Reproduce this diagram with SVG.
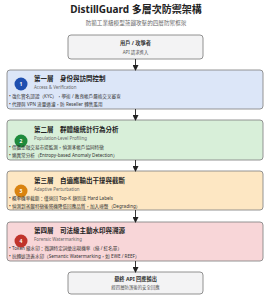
<svg xmlns="http://www.w3.org/2000/svg" width="272" height="300" viewBox="0 0 272 300">
<defs>
<marker id="ah" markerWidth="6" markerHeight="6" refX="5" refY="3" orient="auto" markerUnits="userSpaceOnUse">
<path d="M0,0 L6,3 L0,6 Z" fill="#222"/>
</marker>
<style>
text{font-family:"Noto Sans","Noto Sans CJK TC",sans-serif;}
.title{font-size:10px;font-weight:bold;fill:#222;text-anchor:middle;}
.sub{font-size:5.6px;fill:#666;text-anchor:middle;}
.term{fill:#f3f3f4;stroke:#777;stroke-width:0.8;}
.tt{font-size:5.2px;font-weight:bold;fill:#333;text-anchor:middle;}
.ts{font-size:4.4px;fill:#555;text-anchor:middle;}
.lay{stroke:#888;stroke-width:0.9;}
.lt{font-size:6.5px;font-weight:bold;fill:#222;}
.le{font-size:4.4px;fill:#666;}
.lb{font-size:4.6px;fill:#333;}
.num{font-size:5px;font-weight:bold;fill:#fff;text-anchor:middle;}
.con{stroke:#222;stroke-width:0.9;fill:none;marker-end:url(#ah);}
</style>
</defs>
<rect width="272" height="300" fill="#ffffff"/>
<text class="title" x="136" y="13">DistillGuard 多層次防禦架構</text>
<text class="sub" x="136" y="25">防範工業級模型蒸餾攻擊的四層防禦框架</text>

<g id="user">
<rect class="term" x="68" y="35" width="135" height="24" rx="3"/>
<text class="tt" x="135.5" y="45">用戶 / 攻擊者</text>
<text class="ts" x="135.5" y="53.5">API 請求進入</text>
</g>

<g id="layer1">
<rect class="lay" x="7" y="70" width="256" height="39" rx="3" fill="#dce6f8"/>
<circle cx="21" cy="84" r="6.5" fill="#1f4fb0"/>
<text class="num" x="21" y="85.8">1</text>
<text class="lt" x="34" y="81">第一層　身份與訪問控制</text>
<text class="le" x="34" y="89">Access &amp; Verification</text>
<text class="lb" x="9" y="98">• 強化實名認證（KYC），學術 / 教育帳戶嚴格交叉審查</text>
<text class="lb" x="9" y="106">• 代理與 VPN 流量過濾，防 Reseller 轉售濫用</text>
</g>

<g id="layer2">
<rect class="lay" x="7" y="120" width="256" height="40" rx="3" fill="#d8efd9"/>
<circle cx="21" cy="141" r="6.5" fill="#1f8a3c"/>
<text class="num" x="21" y="142.8">2</text>
<text class="lt" x="34" y="132">第二層　群體級統計行為分析</text>
<text class="le" x="34" y="140">Population-Level Profiling</text>
<text class="lb" x="9" y="149">• 借鑑金融交易市場監測，偵測多帳戶協同特徵</text>
<text class="lb" x="9" y="157">• 熵異常分析（Entropy-based Anomaly Detection）</text>
</g>

<g id="layer3">
<rect class="lay" x="7" y="171" width="256" height="39" rx="3" fill="#fde7c3"/>
<circle cx="21" cy="191" r="6.5" fill="#d98310"/>
<text class="num" x="21" y="192.8">3</text>
<text class="lt" x="34" y="183">第三層　自適應輸出干擾與截斷</text>
<text class="le" x="34" y="191">Adaptive Perturbation</text>
<text class="lb" x="9" y="200">• 概率機率截斷：僅返回 Top-K 類別或 Hard Labels</text>
<text class="lb" x="9" y="208">• 偵測到蒸餾特徵後隨機降低回應品質，加入噪聲（Degrading）</text>
</g>

<g id="layer4">
<rect class="lay" x="7" y="222" width="256" height="39" rx="3" fill="#f8d6d8"/>
<circle cx="21" cy="241" r="6.5" fill="#c0332b"/>
<text class="num" x="21" y="242.8">4</text>
<text class="lt" x="34" y="233">第四層　司法級主動水印與溯源</text>
<text class="le" x="34" y="241">Forensic Watermarking</text>
<text class="lb" x="9" y="250">• Token 級水印：微調特定詞彙出現機率（綠 / 紅名單）</text>
<text class="lb" x="9" y="258">• 抗轉述語義水印（Semantic Watermarking，如 EWE / REEF）</text>
</g>

<g id="final">
<rect class="term" x="68" y="272" width="135" height="22" rx="3"/>
<text class="tt" x="135.5" y="281">最終 API 回應輸出</text>
<text class="ts" x="135.5" y="289">經四層防護後的安全回應</text>
</g>

<g id="connectors">
<line class="con" x1="135.5" y1="59" x2="135.5" y2="70"/>
<line class="con" x1="135.5" y1="109" x2="135.5" y2="120"/>
<line class="con" x1="135.5" y1="160" x2="135.5" y2="171"/>
<line class="con" x1="135.5" y1="210" x2="135.5" y2="222"/>
<line class="con" x1="135.5" y1="261" x2="135.5" y2="272"/>
</g>
</svg>
